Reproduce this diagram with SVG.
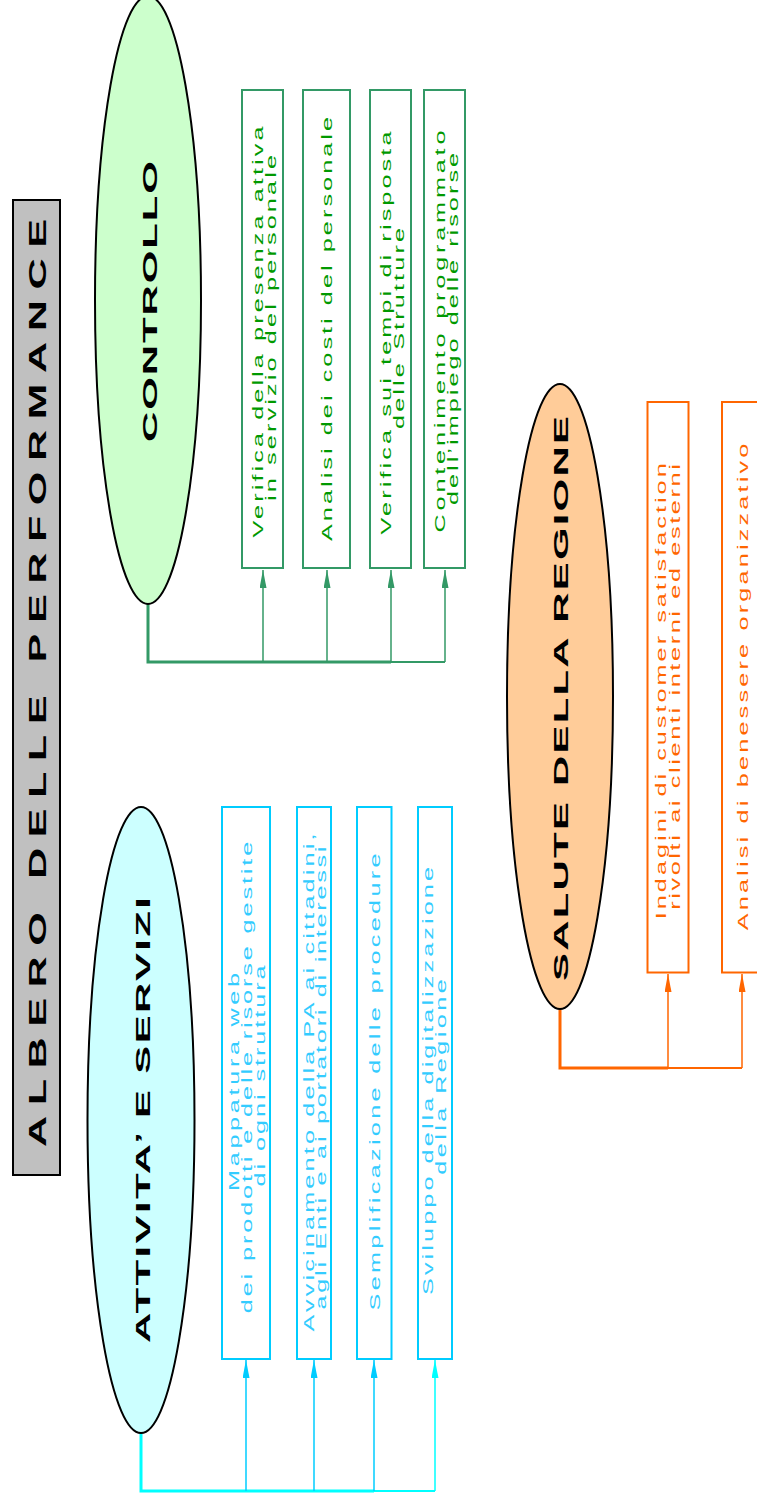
<svg xmlns="http://www.w3.org/2000/svg" width="757" height="1500" viewBox="0 0 757 1500">
<style>
.ell{stroke:#000;stroke-width:2}
.lbl{font-family:"Liberation Sans",Arial,sans-serif;font-weight:bold;font-size:21px;fill:#000;text-anchor:middle}
.ttl{font-family:"Liberation Sans",Arial,sans-serif;font-weight:bold;font-size:24px;fill:#000;text-anchor:middle}
.t{font-family:"Liberation Sans",Arial,sans-serif;font-size:14px;text-anchor:middle}
.gb{fill:#fff;stroke:#339966;stroke-width:2}
.cb{fill:#fff;stroke:#00CCFF;stroke-width:2}
.ob{fill:#fff;stroke:#FF6600;stroke-width:2}
.gt{fill:#009900}
.ct{fill:#33CCFF}
.ot{fill:#FF6600}
.g{stroke:#339966;fill:none}
.c{stroke:#00CCFF;fill:none}
.c2{stroke:#00FFFF;fill:none}
.o{stroke:#FF6600;fill:none}
</style>
<defs>
<marker id="ag" markerUnits="userSpaceOnUse" markerWidth="19" markerHeight="8" refX="18" refY="3.5" orient="auto"><path d="M0,0 L18,3.5 L0,7 z" fill="#339966"/></marker>
<marker id="ac" markerUnits="userSpaceOnUse" markerWidth="19" markerHeight="8" refX="18" refY="3.5" orient="auto"><path d="M0,0 L18,3.5 L0,7 z" fill="#00CCFF"/></marker>
<marker id="ac2" markerUnits="userSpaceOnUse" markerWidth="19" markerHeight="8" refX="18" refY="3.5" orient="auto"><path d="M0,0 L18,3.5 L0,7 z" fill="#00FFFF"/></marker>
<marker id="ao" markerUnits="userSpaceOnUse" markerWidth="19" markerHeight="8" refX="18" refY="3.5" orient="auto"><path d="M0,0 L18,3.5 L0,7 z" fill="#FF6600"/></marker>
</defs>

<g id="title">
<rect x="13" y="200" width="47" height="975" fill="#C0C0C0" stroke="#000" stroke-width="2"/>
<text class="ttl" transform="translate(45.5,683) rotate(-90) scale(1.8,1)" textLength="515.6" lengthAdjust="spacing">ALBERO DELLE PERFORMANCE</text>
</g>

<g id="connectors">
<path class="g" stroke-width="3" d="M148,604 V662 H391"/>
<path class="g" stroke-width="2" d="M391,662 H445"/>
<path class="g" stroke-width="1.5" d="M263,662 V570" marker-end="url(#ag)"/>
<path class="g" stroke-width="1.5" d="M327,662 V570" marker-end="url(#ag)"/>
<path class="g" stroke-width="1.5" d="M391,662 V570" marker-end="url(#ag)"/>
<path class="g" stroke-width="1.5" d="M445,662 V570" marker-end="url(#ag)"/>

<path class="c2" stroke-width="3" d="M141,1433 V1491 H374"/>
<path class="c2" stroke-width="2" d="M374,1491 H435"/>
<path class="c" stroke-width="1.5" d="M246,1491 V1360" marker-end="url(#ac)"/>
<path class="c" stroke-width="1.5" d="M314,1491 V1360" marker-end="url(#ac)"/>
<path class="c" stroke-width="1.5" d="M374,1491 V1360" marker-end="url(#ac)"/>
<path class="c2" stroke-width="1.5" d="M435,1491 V1360" marker-end="url(#ac2)"/>

<path class="o" stroke-width="3" d="M560,1009 V1068 H668"/>
<path class="o" stroke-width="2" d="M668,1068 H742"/>
<path class="o" stroke-width="1.5" d="M668,1068 V974" marker-end="url(#ao)"/>
<path class="o" stroke-width="1.5" d="M742,1068 V974" marker-end="url(#ao)"/>
</g>

<g id="controllo">
<ellipse class="ell" cx="148" cy="300" rx="53" ry="304" fill="#CCFFCC"/>
<text class="lbl" transform="translate(156.5,301.5) rotate(-90) scale(2,1)" textLength="140.5" lengthAdjust="spacing">CONTROLLO</text>
</g>
<g id="c1">
<rect class="gb" x="242" y="90" width="41" height="478"/>
<text class="t gt" transform="translate(262.5,332) rotate(-90) scale(1.8,1)" textLength="228.3" lengthAdjust="spacing">Verifica della presenza attiva</text>
<text class="t gt" transform="translate(275.5,328) rotate(-90) scale(1.8,1)" textLength="192.2" lengthAdjust="spacing">in servizio del personale</text>
</g>
<g id="c2">
<rect class="gb" x="303" y="90" width="47" height="478"/>
<text class="t gt" transform="translate(332,329) rotate(-90) scale(1.8,1)" textLength="235.6" lengthAdjust="spacing">Analisi dei costi del personale</text>
</g>
<g id="c3">
<rect class="gb" x="370" y="90" width="41" height="478"/>
<text class="t gt" transform="translate(390.5,333) rotate(-90) scale(1.8,1)" textLength="223.9" lengthAdjust="spacing">Verifica sui tempi di risposta</text>
<text class="t gt" transform="translate(403.5,328.5) rotate(-90) scale(1.8,1)" textLength="111.7" lengthAdjust="spacing">delle Strutture</text>
</g>
<g id="c4">
<rect class="gb" x="424" y="90" width="41" height="478"/>
<text class="t gt" transform="translate(445,331.5) rotate(-90) scale(1.8,1)" textLength="223.3" lengthAdjust="spacing">Contenimento programmato</text>
<text class="t gt" transform="translate(458,329) rotate(-90) scale(1.8,1)" textLength="195.6" lengthAdjust="spacing">dell’impiego delle risorse</text>
</g>

<g id="attivita">
<ellipse class="ell" cx="141" cy="1120" rx="53.5" ry="313" fill="#CCFFFF"/>
<text class="lbl" transform="translate(150,1120) rotate(-90) scale(2,1)" textLength="223" lengthAdjust="spacing">ATTIVITA’ E SERVIZI</text>
</g>
<g id="a1">
<rect class="cb" x="222" y="807" width="48" height="552"/>
<text class="t ct" transform="translate(238.5,1082) rotate(-90) scale(1.8,1)" textLength="121.1" lengthAdjust="spacing">Mappatura web</text>
<text class="t ct" transform="translate(251.5,1077.5) rotate(-90) scale(1.8,1)" textLength="262" lengthAdjust="spacing">dei prodotti e delle risorse gestite</text>
<text class="t ct" transform="translate(264.5,1076) rotate(-90) scale(1.8,1)" textLength="122.8" lengthAdjust="spacing">di ogni struttura</text>
</g>
<g id="a2">
<rect class="cb" x="297" y="807" width="34" height="552"/>
<text class="t ct" transform="translate(313.5,1082.5) rotate(-90) scale(1.8,1)" textLength="276.7" lengthAdjust="spacing">Avvicinamento della PA ai cittadini,</text>
<text class="t ct" transform="translate(326,1078) rotate(-90) scale(1.8,1)" textLength="257.2" lengthAdjust="spacing">agli Enti e ai portatori di interessi</text>
</g>
<g id="a3">
<rect class="cb" x="357" y="807" width="34.5" height="552"/>
<text class="t ct" transform="translate(380,1082) rotate(-90) scale(1.8,1)" textLength="253.9" lengthAdjust="spacing">Semplificazione delle procedure</text>
</g>
<g id="a4">
<rect class="cb" x="418" y="807" width="34" height="552"/>
<text class="t ct" transform="translate(433,1081) rotate(-90) scale(1.8,1)" textLength="237.8" lengthAdjust="spacing">Sviluppo della digitalizzazione</text>
<text class="t ct" transform="translate(446,1077) rotate(-90) scale(1.8,1)" textLength="108.6" lengthAdjust="spacing">della Regione</text>
</g>

<g id="salute">
<ellipse class="ell" cx="560" cy="696.5" rx="53" ry="312.5" fill="#FFCC99"/>
<text class="lbl" transform="translate(568,698.5) rotate(-90) scale(2,1)" textLength="282.5" lengthAdjust="spacing">SALUTE DELLA REGIONE</text>
</g>
<g id="s1">
<rect class="ob" x="647.5" y="402" width="41" height="570.5"/>
<text class="t ot" transform="translate(666,691.3) rotate(-90) scale(1.8,1)" textLength="253.3" lengthAdjust="spacing">Indagini di customer satisfaction</text>
<text class="t ot" transform="translate(680,687) rotate(-90) scale(1.8,1)" textLength="247.6" lengthAdjust="spacing">rivolti ai clienti interni ed esterni</text>
</g>
<g id="s2">
<rect class="ob" x="722" y="402" width="41" height="570.5"/>
<text class="t ot" transform="translate(747.5,687) rotate(-90) scale(1.8,1)" textLength="270.4" lengthAdjust="spacing">Analisi di benessere organizzativo</text>
</g>
</svg>
